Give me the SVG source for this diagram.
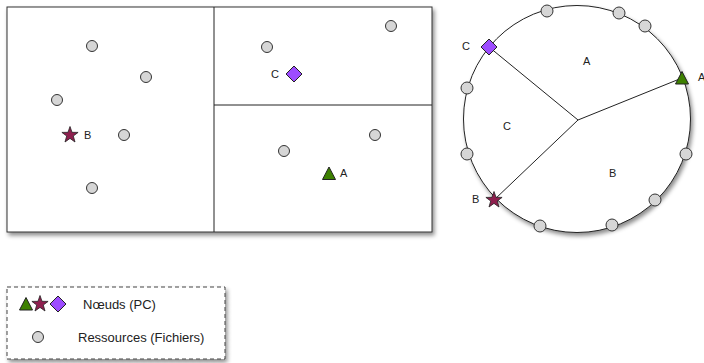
<svg xmlns="http://www.w3.org/2000/svg" width="704" height="363" viewBox="0 0 704 363">
<defs>
<filter id="sh" x="-10%" y="-10%" width="125%" height="125%">
<feDropShadow dx="2" dy="3" stdDeviation="2" flood-color="#000" flood-opacity="0.45"/>
</filter>
<symbol id="star" overflow="visible"><polygon points="0,-8.5 2,-2.7 8.1,-2.6 3.3,1 5,7 0,3.4 -5,7 -3.3,1 -8.1,-2.6 -2,-2.7"/></symbol>
</defs>
<style>
text{font-family:"Liberation Sans",Arial,sans-serif;font-size:11px;fill:#222;dominant-baseline:central}
.leg{font-size:13px}
.res{fill:#d6d6d6;stroke:#333;stroke-width:1}
.line{stroke:#222;stroke-width:1;fill:none}
.tri{fill:#3d8000;stroke:#222;stroke-width:1}
.star{fill:#8e1f4e;stroke:#222;stroke-width:0.8}
.dia{fill:#9d4cff;stroke:#222;stroke-width:1}
</style>
<rect width="704" height="363" fill="#fff"/>

<g id="grid">
<rect x="7" y="7" width="425" height="225" fill="#fff" stroke="#333" stroke-width="1" filter="url(#sh)"/>
<line class="line" x1="214" y1="7" x2="214" y2="232"/>
<line class="line" x1="214" y1="105" x2="432" y2="105"/>
</g>

<g id="grid-resources">
<circle class="res" cx="92" cy="46" r="5.5"/>
<circle class="res" cx="146" cy="77" r="5.5"/>
<circle class="res" cx="57" cy="100" r="5.5"/>
<circle class="res" cx="124" cy="135" r="5.5"/>
<circle class="res" cx="92" cy="188" r="5.5"/>
<circle class="res" cx="267" cy="47" r="5.5"/>
<circle class="res" cx="391" cy="26" r="5.5"/>
<circle class="res" cx="375" cy="135" r="5.5"/>
<circle class="res" cx="284" cy="151" r="5.5"/>
</g>

<g id="grid-node-B">
<use href="#star" class="star" x="70" y="135"/>
<text x="84" y="135">B</text>
</g>
<g id="grid-node-C">
<polygon class="dia" points="294,66 302,74 294,82 286,74"/>
<text x="271" y="74">C</text>
</g>
<g id="grid-node-A">
<polygon class="tri" points="322.5,179.5 335.5,179.5 329,167"/>
<text x="340" y="173">A</text>
</g>

<g id="ring">
<circle cx="577" cy="119" r="113.5" fill="#fff" stroke="#222" stroke-width="1" filter="url(#sh)"/>
</g>
<g id="connectors">
<line class="line" x1="578" y1="120" x2="489" y2="47"/>
<line class="line" x1="578" y1="120" x2="682" y2="78"/>
<line class="line" x1="578" y1="120" x2="494" y2="200"/>
</g>
<g id="ring-labels">
<text x="583" y="61">A</text>
<text x="503" y="126">C</text>
<text x="609" y="173">B</text>
</g>
<g id="ring-resources">
<circle class="res" cx="547" cy="11" r="6"/>
<circle class="res" cx="619" cy="13" r="6"/>
<circle class="res" cx="645" cy="26" r="6"/>
<circle class="res" cx="467" cy="88" r="6"/>
<circle class="res" cx="467" cy="154" r="6"/>
<circle class="res" cx="686" cy="154" r="6"/>
<circle class="res" cx="655" cy="200" r="6"/>
<circle class="res" cx="612" cy="225" r="6"/>
<circle class="res" cx="540" cy="226" r="6"/>
</g>
<g id="ring-node-C">
<polygon class="dia" points="489,39 497,47 489,55 481,47"/>
<text x="462" y="46">C</text>
</g>
<g id="ring-node-A">
<polygon class="tri" points="675.5,84 688.5,84 682,71.5"/>
<text x="698" y="77">A</text>
</g>
<g id="ring-node-B">
<use href="#star" class="star" x="494" y="200"/>
<text x="472" y="199">B</text>
</g>

<g id="legend">
<rect x="7" y="287" width="218" height="72" fill="#fff" stroke="#444" stroke-width="1" stroke-dasharray="4,3" filter="url(#sh)"/>
<polygon class="tri" points="19.5,310 32.5,310 26,297.5"/>
<use href="#star" class="star" x="40" y="304"/>
<polygon class="dia" points="58,296 66,304 58,312 50,304"/>
<text class="leg" x="83" y="304">Nœuds (PC)</text>
<circle class="res" cx="38" cy="337" r="5.5"/>
<text class="leg" x="78" y="337">Ressources (Fichiers)</text>
</g>
</svg>
